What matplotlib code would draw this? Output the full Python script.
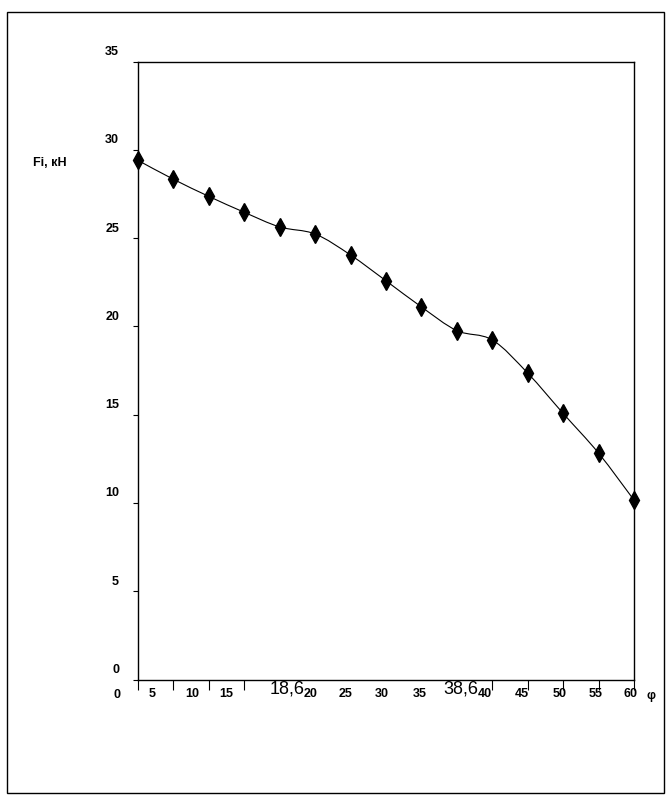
import matplotlib
matplotlib.use("Agg")
import matplotlib.pyplot as plt
from matplotlib import font_manager
from matplotlib.path import Path
from matplotlib.patches import PathPatch, Rectangle
from matplotlib.transforms import ScaledTranslation
import numpy as np

# ---- data ----
x_pos = [0, 1, 2, 3, 4, 5, 6, 7, 8, 9, 10, 11, 12, 13, 14]
fi_values = [29.40, 28.33, 27.36, 26.46, 25.63, 25.23, 24.04, 22.58,
             21.10, 19.76, 19.23, 17.35, 15.07, 12.82, 10.16]
y_ticks = [0, 5, 10, 15, 20, 25, 30, 35]
x_label_texts = ["5", "10", "15", "18,6", "20", "25", "30", "35", "38,6",
                 "40", "45", "50", "55", "60"]
x_label_pos = [0.40, 1.52, 2.48, 4.20, 4.88, 5.87, 6.89, 7.96, 9.12,
               9.79, 10.84, 11.91, 12.93, 13.89]
x_tick_marks = [0, 1, 2, 3, 10, 11, 12, 13, 14]
big_labels = ["18,6", "38,6"]
y_title = "Fi, кН"
x_title = "φ"
origin_label = "0"


def pick_font(names):
    for n in names:
        try:
            font_manager.findfont(n, fallback_to_default=False)
            return n
        except Exception:
            continue
    return "DejaVu Sans"


narrow = pick_font(["Liberation Sans Narrow", "Liberation Sans", "DejaVu Sans"])
regular = pick_font(["Liberation Sans", "DejaVu Sans"])

W, H = 666, 795
fig = plt.figure(figsize=(W / 100, H / 100), dpi=100)
fig.patch.set_facecolor("white")

left, right, top, bottom = 138, 634, 61.5, 679.5
ax = fig.add_axes([left / W, 1 - bottom / H, (right - left) / W, (bottom - top) / H])
ax.set_xlim(0, 14)
ax.set_ylim(0, 35)
for s in ax.spines.values():
    s.set_linewidth(1.0)
    s.set_color("black")

# smoothed line (cubic Bezier through points, Excel style)
pts = np.column_stack([x_pos, fi_values]).astype(float)
n = len(pts)
verts = [tuple(pts[0])]
codes = [Path.MOVETO]
for i in range(n - 1):
    p0 = pts[i - 1] if i > 0 else pts[i]
    p1 = pts[i]
    p2 = pts[i + 1]
    p3 = pts[i + 2] if i + 2 < n else pts[i + 1]
    c1 = p1 + (p2 - p0) / 6.0
    c2 = p2 - (p3 - p1) / 6.0
    verts += [tuple(c1), tuple(c2), tuple(p2)]
    codes += [Path.CURVE4] * 3
ax.add_patch(PathPatch(Path(verts, codes), facecolor="none",
                       edgecolor="black", linewidth=0.8, clip_on=False))

ax.plot(x_pos, fi_values, linestyle="none", marker="d", markersize=9,
        color="black", clip_on=False, zorder=5)

# y ticks
ax.set_yticks(y_ticks)
ax.set_yticklabels([str(v) for v in y_ticks])
ax.tick_params(axis="y", direction="out", length=3.6, width=0.8, pad=10,
               labelsize=9)
offset = ScaledTranslation(0, 11 / 100, fig.dpi_scale_trans)
for lab in ax.get_yticklabels():
    lab.set_fontfamily(narrow)
    lab.set_fontweight("bold")
    lab.set_transform(lab.get_transform() + offset)

# x ticks: labels as major (no mark), marks as minor
ax.set_xticks(x_label_pos)
ax.set_xticklabels(x_label_texts)
ax.set_xticks(x_tick_marks, minor=True)
ax.tick_params(axis="x", which="major", length=0, pad=12.6, labelsize=9)
ax.tick_params(axis="x", which="minor", direction="out", length=7.5, width=0.8)
boff = ScaledTranslation(0, 3 / 100, fig.dpi_scale_trans)
for lab in ax.get_xticklabels():
    lab.set_va("baseline")
    if lab.get_text() in big_labels:
        lab.set_fontfamily(regular)
        lab.set_fontweight("normal")
        lab.set_fontsize(13)
        lab.set_transform(lab.get_transform() + boff)
    else:
        lab.set_fontfamily(narrow)
        lab.set_fontweight("bold")

ax.annotate(origin_label, xy=(0, 0), xycoords="axes fraction",
            xytext=(-21 * 0.72, -18 * 0.72), textcoords="offset points",
            ha="center", va="baseline", fontsize=9, fontweight="bold",
            family=narrow)
ax.annotate(x_title, xy=(1, 0), xycoords="axes fraction",
            xytext=(17 * 0.72, -19 * 0.72), textcoords="offset points",
            ha="center", va="baseline", fontsize=9, fontweight="bold",
            family=[narrow, "DejaVu Sans"])

fig.text(33 / W, 1 - 163.5 / H, y_title, ha="left", va="center",
         fontsize=9, fontweight="bold", family=[narrow, "DejaVu Sans"])

# outer frame
fig.add_artist(Rectangle((6.5 / W, 1 - 792.5 / H), (663.5 - 6.5) / W,
                         (792.5 - 12) / H, transform=fig.transFigure,
                         fill=False, edgecolor="black", linewidth=1.0))

fig.savefig("out.png", dpi=100)
